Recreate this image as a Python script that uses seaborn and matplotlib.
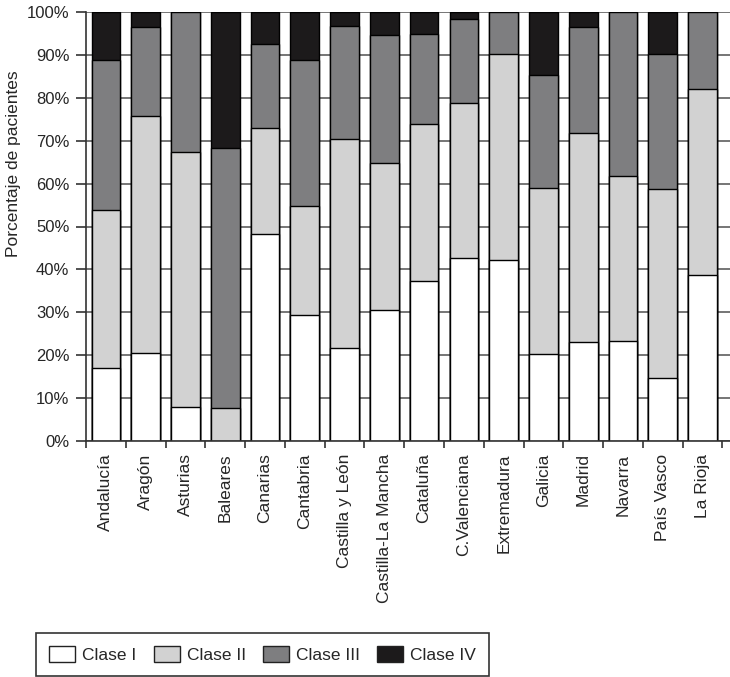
import numpy as np
import pandas as pd
import matplotlib
matplotlib.use('Agg')
import matplotlib.pyplot as plt
from matplotlib.patches import Patch
import seaborn as sns

# regions (x axis)
regions = ['Andalucía', 'Aragón', 'Asturias', 'Baleares', 'Canarias', 'Cantabria',
           'Castilla y León', 'Castilla-La Mancha', 'Cataluña', 'C.Valenciana',
           'Extremadura', 'Galicia', 'Madrid', 'Navarra', 'País Vasco', 'La Rioja']

# percentage of patients per class
clase_1 = [17.0, 20.6, 8.0, 0.0, 48.2, 29.4, 21.6, 30.5, 37.2, 42.6, 42.2, 20.3, 23.0, 23.4, 14.7, 38.6]
clase_2 = [36.8, 55.2, 59.3, 7.8, 24.8, 25.4, 48.8, 34.4, 36.6, 36.1, 47.9, 38.6, 48.8, 38.4, 44.0, 43.4]
clase_3 = [34.9, 20.7, 32.7, 60.4, 19.6, 33.9, 26.4, 29.8, 21.1, 19.6, 9.9, 26.4, 24.8, 38.2, 31.4, 18.0]
clase_4 = [11.3, 3.5, 0.0, 31.8, 7.4, 11.3, 3.2, 5.3, 5.1, 1.7, 0.0, 14.7, 3.4, 0.0, 9.9, 0.0]

class_names = ['Clase I', 'Clase II', 'Clase III', 'Clase IV']
class_colors = ['#ffffff', '#d2d2d2', '#7e7e80', '#1c1a1b']

y_ticks = [0, 10, 20, 30, 40, 50, 60, 70, 80, 90, 100]
y_ticklabels = [f'{t}%' for t in y_ticks]

sns.set_theme(style='white')
plt.rcParams['font.family'] = ['Liberation Sans', 'DejaVu Sans']

df = pd.DataFrame({'region': regions, 'Clase I': clase_1, 'Clase II': clase_2,
                   'Clase III': clase_3, 'Clase IV': clase_4})
cum = df[class_names].cumsum(axis=1)

fig = plt.figure(figsize=(7.3, 6.77), dpi=100)
ax = fig.add_axes([86 / 730, 1 - 441 / 677, 1 - 86 / 730, (441 - 12) / 677])

# draw cumulative layers from the top class down
for name, col in zip(class_names[::-1], class_colors[::-1]):
    sns.barplot(x=df['region'], y=cum[name], color=col, saturation=1, width=0.72,
                edgecolor='black', linewidth=1.0, errorbar=None, ax=ax)

ax.set_ylim(0, 100)
ax.set_xlim(-0.5, 15.69)
ax.set_axisbelow(True)
ax.yaxis.grid(True, color='#6a6a6a', linewidth=1.3)
ax.xaxis.grid(False)

ax.set_yticks(y_ticks)
ax.set_yticklabels(y_ticklabels, fontsize=12)
ax.tick_params(axis='y', which='major', left=True, length=7, width=1.2,
               color='#333333', direction='out', pad=5)

ax.set_xticks(range(len(regions)))
ax.set_xticklabels(regions, rotation=90, fontsize=12.5)
ax.set_xticks(np.arange(-0.5, len(regions), 1), minor=True)
ax.tick_params(axis='x', which='major', length=0, pad=9)
ax.tick_params(axis='x', which='minor', bottom=True, length=5, width=1.2,
               color='#333333', direction='out')

ax.set_xlabel('')
ax.set_ylabel('')
for side in ['top', 'right']:
    ax.spines[side].set_visible(False)
for side in ['left', 'bottom']:
    ax.spines[side].set_color('#333333')
    ax.spines[side].set_linewidth(1.2)

fig.text(14 / 730, 1 - 164 / 677, 'Porcentaje de pacientes', rotation=90,
         ha='center', va='center', fontsize=12.5)

handles = [Patch(facecolor=c, edgecolor='#222222', linewidth=1.0) for c in class_colors]
leg = fig.legend(handles, class_names, ncol=4, loc='lower left',
                 bbox_to_anchor=(36 / 730, 0.0015), fontsize=12.5, frameon=True,
                 fancybox=False, edgecolor='#333333', framealpha=1,
                 handlelength=1.5, handleheight=1.05, handletextpad=0.4,
                 columnspacing=1.0, borderpad=0.75, borderaxespad=0)
leg.get_frame().set_linewidth(1.2)

fig.savefig('out.png', dpi=100)
